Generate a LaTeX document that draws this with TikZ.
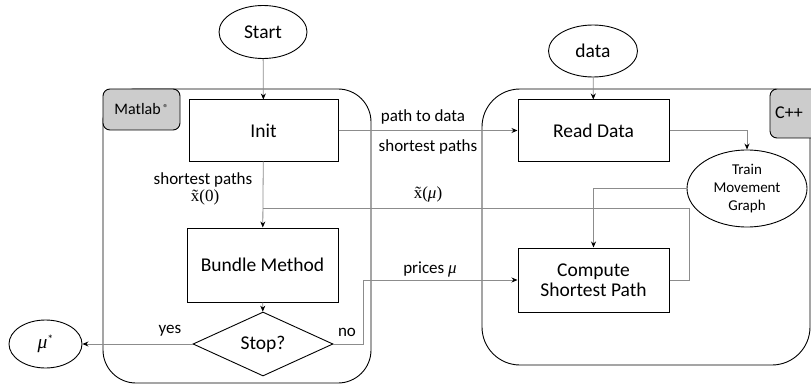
\documentclass[tikz,border=0pt]{standalone}
\usepackage{fontspec}
\setmainfont{Carlito}
\newfontfamily\symfont{Liberation Serif}
\newcommand{\mysym}[1]{{\symfont\itshape #1}}
\usetikzlibrary{shapes.geometric,arrows.meta}

\begin{document}
\begin{tikzpicture}[x=1pt, y=-1pt,
        box/.style={rectangle, draw, line width=1pt, font=\fontsize{19.5}{22}\selectfont, align=center, inner sep=0pt},
        oval/.style={ellipse, draw, line width=0.9pt, font=\fontsize{19.5}{22}\selectfont, align=center, inner sep=0pt},
        tagbox/.style={draw, line width=0.9pt, fill=black!20, rounded corners=7pt},
        lbl/.style={font=\fontsize{17}{19}\selectfont, inner sep=0pt},
        link/.style={draw=black!45, line width=0.8pt, -{Stealth[length=6pt, width=5pt, color=black]}},
        wire/.style={draw=black!45, line width=0.8pt}
    ]
        \clip (0,0) rectangle (811,385);

        % the two program parts
        \draw[line width=0.9pt, rounded corners=33pt] (103,89) rectangle (371,383);
        \draw[line width=0.9pt, rounded corners=38pt] (482,89) rectangle (810,365);
        \node[tagbox, minimum width=77pt, minimum height=41pt, font=\fontsize{16}{18}\selectfont]
            (matlab) at (141.5,109.5) {Matlab\,\raisebox{0.45ex}{\fontsize{10}{10}\selectfont ®}};
        \draw[tagbox] (770,89) rectangle (820,138);
        \node[font=\fontsize{18}{20}\selectfont] (cpp) at (789,113) {C++};

        % flow nodes
        \node[oval, minimum width=88pt, minimum height=53pt] (start) at (263,32) {Start};
        \node[oval, minimum width=89pt, minimum height=52pt] (data) at (593,51) {data};
        \node[box, minimum width=149pt, minimum height=61pt] (init) at (263.5,130.5) {Init};
        \node[box, minimum width=151pt, minimum height=61pt] (read) at (593.5,130.5) {Read Data};
        \node[box, minimum width=151pt, minimum height=74pt] (bundle) at (262.5,265) {Bundle Method};
        \node[box, minimum width=151pt, minimum height=64pt] (compute) at (593.5,280)
            {Compute\\[-2pt]Shortest Path};
        \node[oval, minimum width=120pt, minimum height=77pt, font=\fontsize{15}{18}\selectfont]
            (train) at (747,188.5) {Train\\Movement\\Graph};
        \node[diamond, draw, line width=0.9pt, aspect=2.2, minimum width=140pt, minimum height=64pt,
            inner sep=0pt, font=\fontsize{19.5}{22}\selectfont] (stop) at (263,344) {Stop?};
        \node[oval, minimum width=73pt, minimum height=48pt] (mustar) at (45.5,344)
            {\mysym{μ}\raisebox{0.6ex}{\fontsize{12}{12}\selectfont *}};

        % bends of the connectors
        \coordinate (join) at (263,208);
        \coordinate (back) at (689,208);
        \coordinate (noturn) at (363,280);

        \draw[link] (start) -- (init);
        \draw[link] (data) -- (read);
        \draw[link] (init) -- (read);
        \draw[link] (read.east) -| (train.north);
        \draw[link] (train.west) -| (compute.north);
        \draw[link] (init) -- (bundle);
        \draw[wire] (compute.east) -| (back) -- (join);
        \draw[link] (bundle) -- (stop);
        \draw[link] (stop.east) -| (noturn) -- (compute.west);
        \draw[link] (stop.west) -- (mustar);

        % labels on the connectors
        \node[lbl] (ltodata) at (423,117) {path to data};
        \node[lbl] (lpaths0) at (203,180) {shortest paths};
        \node[lbl] (lx0) at (205,197) {{\symfont x̃(0)}};
        \node[lbl] (lpathsmu) at (428,147) {shortest paths};
        \node[lbl] (lxmu) at (428,194) {{\symfont x̃(}\mysym{μ}{\symfont )}};
        \node[lbl] (lprices) at (430,269) {prices \mysym{μ}};
        \node[lbl] (lyes) at (170,331) {yes};
        \node[lbl] (lno) at (347,332) {no};
    \end{tikzpicture}
\end{document}
